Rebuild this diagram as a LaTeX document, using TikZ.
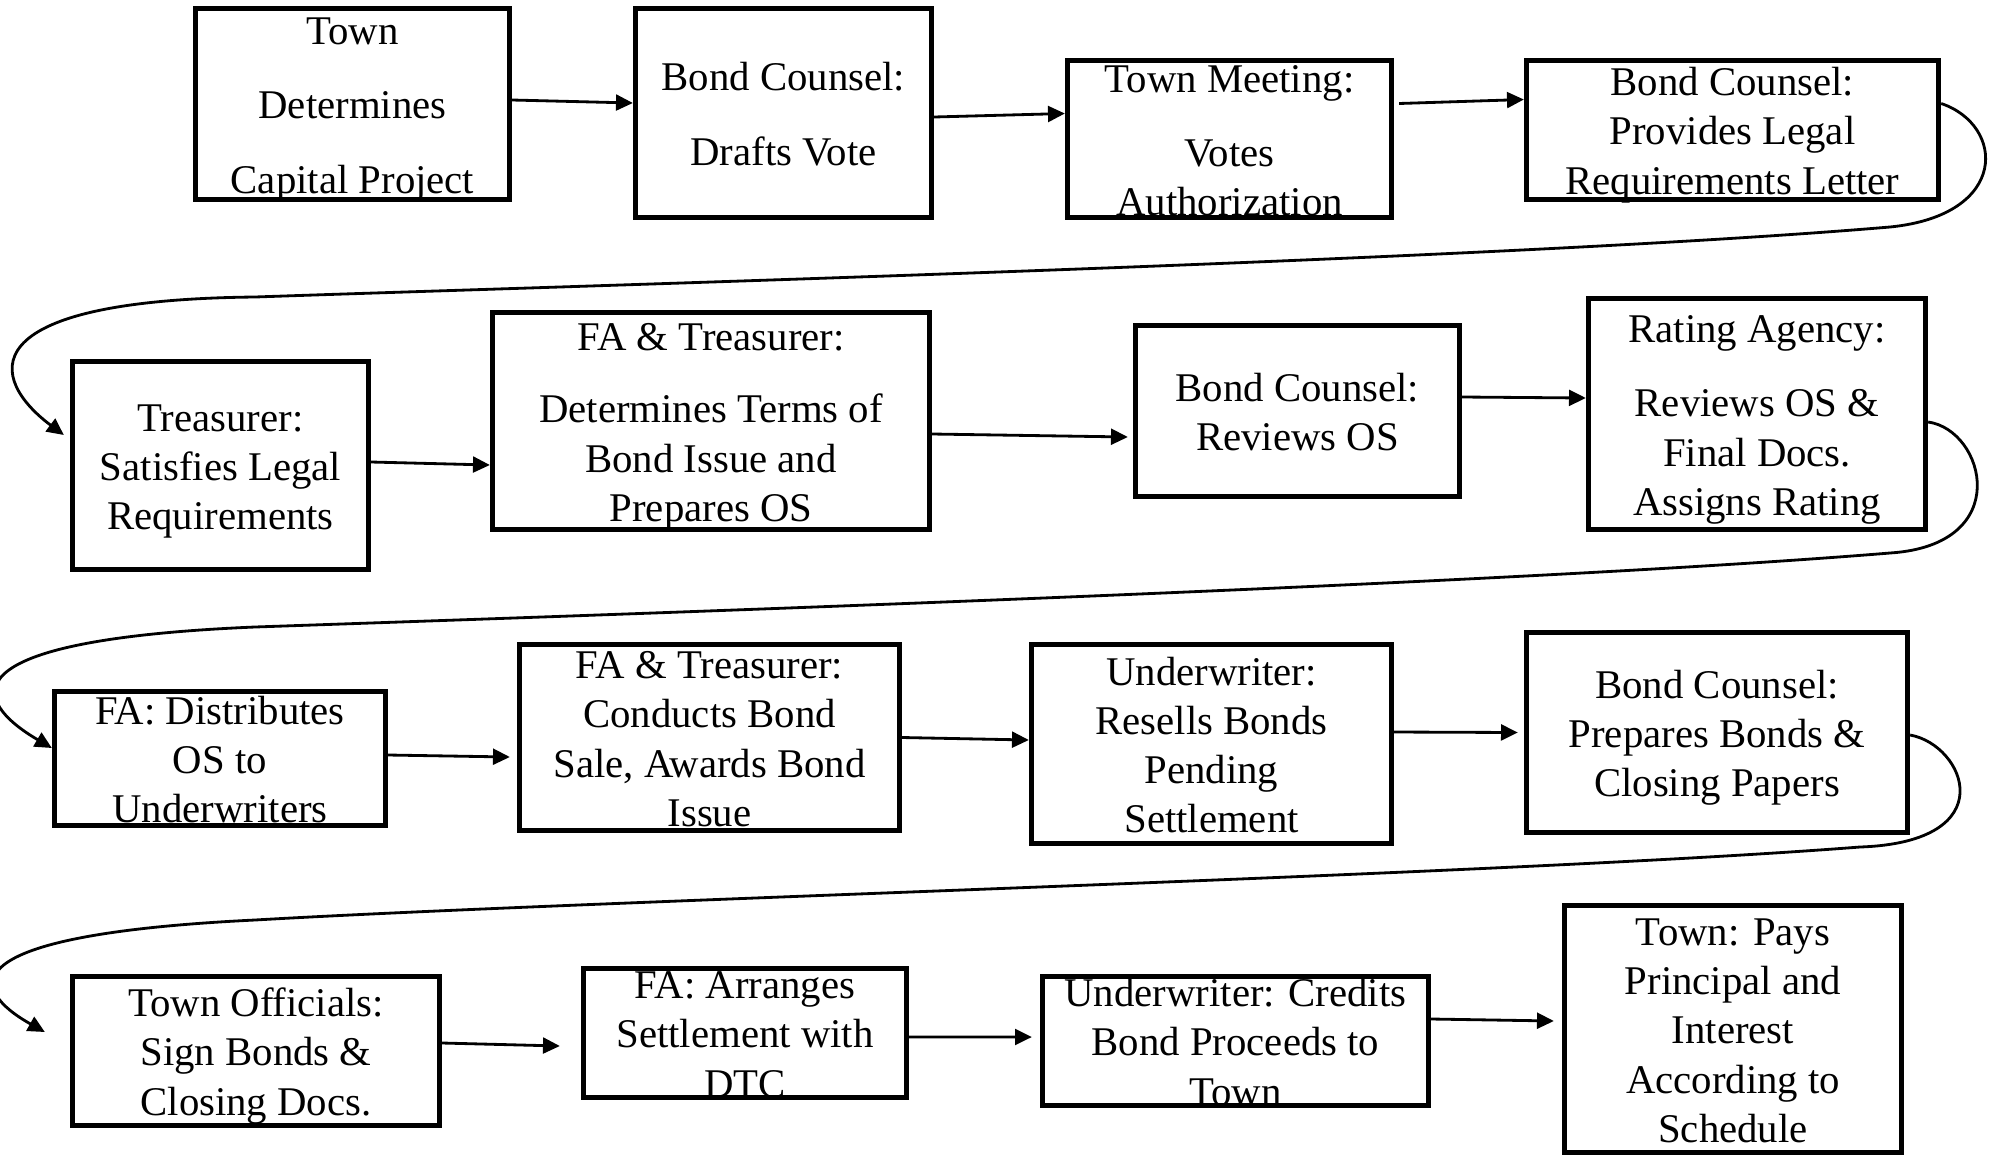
\documentclass[tikz,border=0pt]{standalone}
\usepackage{fontspec}
\setmainfont{Liberation Serif}
\usetikzlibrary{arrows.meta}
\newcommand{\ls}{\rule[-2.5pt]{0pt}{13.5pt}}

\begin{document}
\begin{tikzpicture}[->,>={Triangle[length=4.8pt,width=4.5pt]},line width=0.8pt,
            box/.style={draw,line width=1.5pt,inner sep=0pt},
            txt/.style={inner sep=0pt,align=center,font=\fontsize{11.6}{14}\selectfont}]

          \useasboundingbox (0,0) rectangle (19.92,-11.60);

          % row 1
          \node[box,minimum width=3.14cm,minimum height=1.91cm] (b1)  at ( 3.525, -1.04) {};
          \node[box,minimum width=2.96cm,minimum height=2.09cm] (b2)  at ( 7.835, -1.13) {};
          \node[box,minimum width=3.24cm,minimum height=1.57cm] (b3)  at (12.295, -1.39) {};
          \node[box,minimum width=4.12cm,minimum height=1.39cm] (b4)  at (17.325, -1.30) {};
          % row 2
          \node[box,minimum width=2.96cm,minimum height=2.08cm] (b5)  at ( 2.205, -4.655) {};
          \node[box,minimum width=4.37cm,minimum height=2.17cm] (b6)  at ( 7.110, -4.21) {};
          \node[box,minimum width=3.24cm,minimum height=1.71cm] (b7)  at (12.975, -4.11) {};
          \node[box,minimum width=3.37cm,minimum height=2.31cm] (b8)  at (17.570, -4.14) {};
          % row 3
          \node[box,minimum width=3.31cm,minimum height=1.34cm] (b9)  at ( 2.200, -7.585) {};
          \node[box,minimum width=3.80cm,minimum height=1.86cm] (b10) at ( 7.095, -7.375) {};
          \node[box,minimum width=3.60cm,minimum height=1.99cm] (b11) at (12.115, -7.44) {};
          \node[box,minimum width=3.81cm,minimum height=2.00cm] (b12) at (17.170, -7.325) {};
          % row 4
          \node[box,minimum width=3.67cm,minimum height=1.49cm] (b13) at ( 2.560,-10.51) {};
          \node[box,minimum width=3.23cm,minimum height=1.29cm] (b14) at ( 7.450,-10.33) {};
          \node[box,minimum width=3.86cm,minimum height=1.29cm] (b15) at (12.355,-10.41) {};
          \node[box,minimum width=3.37cm,minimum height=2.47cm] (b16) at (17.330,-10.29) {};

          % texts
          \node[txt] (t1)  at (b1)  {\ls Town\\[0.25cm]Determines\\[0.25cm]Capital Project\ls};
          \node[txt] (t2)  at (b2)  {\ls Bond Counsel:\\[0.25cm]Drafts Vote\ls};
          \node[txt] (t3)  at (b3)  {\ls Town Meeting:\\[0.25cm]Votes\\Authorization\ls};
          \node[txt] (t4)  at (b4)  {\ls Bond Counsel:\\Provides Legal\\Requirements Letter\ls};
          \node[txt] (t5)  at (b5)  {\ls Treasurer:\\Satisfies Legal\\Requirements\ls};
          \node[txt] (t6)  at (b6)  {\ls FA \& Treasurer:\\[0.23cm]Determines Terms of\\Bond Issue and\\Prepares OS\ls};
          \node[txt] (t7)  at (b7)  {\ls Bond Counsel:\\Reviews OS\ls};
          \node[txt] (t8)  at (b8)  {\ls Rating Agency:\\[0.25cm]Reviews OS \&\\Final Docs.\\Assigns Rating\ls};
          \node[txt] (t9)  at (b9)  {\ls FA: Distributes\\OS to\\Underwriters\ls};
          \node[txt] (t10) at (b10) {\ls FA \& Treasurer:\\Conducts Bond\\Sale, Awards Bond\\Issue\ls};
          \node[txt] (t11) at (b11) {\ls Underwriter:\\Resells Bonds\\Pending\\Settlement\ls};
          \node[txt] (t12) at (b12) {\ls Bond Counsel:\\Prepares Bonds \&\\Closing Papers\ls};
          \node[txt] (t13) at (b13) {\ls Town Officials:\\Sign Bonds \&\\Closing Docs.\ls};
          \node[txt] (t14) at (b14) {\ls FA: Arranges\\Settlement with\\DTC\ls};
          \node[txt] (t15) at (b15) {\ls Underwriter: Credits\\Bond Proceeds to\\Town\ls};
          \node[txt] (t16) at (b16) {\ls Town: Pays\\Principal and\\Interest\\According to\\Schedule\ls};

          \path ([yshift= 0.04cm]b1.east)  edge ([yshift= 0.10cm]b2.west)
                ([yshift=-0.04cm]b2.east)  edge ([yshift= 0.255cm]b3.west)
                ([xshift=0.05cm,yshift=0.355cm]b3.east) edge ([yshift= 0.305cm]b4.west)
                ([yshift= 0.035cm]b5.east) edge ([yshift=-0.44cm]b6.west)
                ([yshift=-0.13cm]b6.east)  edge ([xshift=-0.05cm,yshift=-0.26cm]b7.west)
                ([yshift= 0.14cm]b7.east)  edge ([yshift= 0.16cm]b8.west)
                ([yshift= 0.035cm]b9.east) edge ([xshift=-0.07cm,yshift=-0.195cm]b10.west)
                (b10.east)                 edge ([yshift= 0.04cm]b11.west)
                ([yshift= 0.12cm]b11.east) edge ([xshift=-0.06cm]b12.west)
                ([yshift= 0.08cm]b13.east) edge ([xshift=-0.21cm,yshift=-0.13cm]b14.west)
                ([yshift=-0.04cm]b14.east) edge ([xshift=-0.08cm,yshift= 0.04cm]b15.west)
                ([yshift= 0.22cm]b15.east) edge ([xshift=-0.08cm,yshift= 0.08cm]b16.west);

          % wrap to next row
          \draw ([yshift=0.265cm]b4.east) .. controls (20.05,-1.25) and (20.10,-2.15) .. (18.90,-2.27)
                .. controls (15.00,-2.60) and (6.00,-2.85) .. (2.55,-2.97)
                .. controls (-0.35,-3.00) and (-0.10,-3.80) .. ([xshift=-0.06cm,yshift=0.305cm]b5.west);
          \draw ([yshift=-0.08cm]b8.east) .. controls (19.85,-4.30) and (20.15,-5.45) .. (18.90,-5.53)
                .. controls (15.00,-5.85) and (6.00,-6.15) .. (2.55,-6.27)
                .. controls (-0.55,-6.40) and (-0.30,-7.00) .. ([yshift=0.105cm]b9.west);
          \draw ([yshift=-0.025cm]b12.east) .. controls (19.65,-7.45) and (20.05,-8.42) .. (18.60,-8.47)
                .. controls (15.00,-8.75) and (6.00,-9.00) .. (2.55,-9.20)
                .. controls (-0.55,-9.35) and (-0.30,-9.90) .. ([xshift=-0.25cm,yshift=0.19cm]b13.west);
        \end{tikzpicture}
\end{document}
